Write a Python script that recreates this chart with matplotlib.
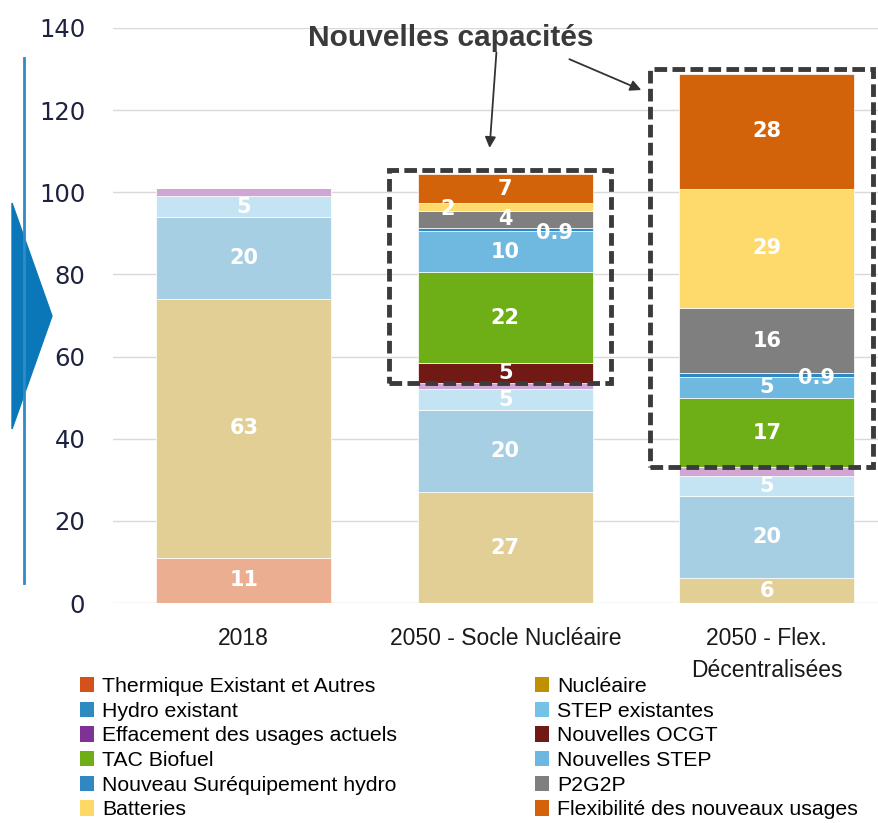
import matplotlib
matplotlib.use('Agg')
import matplotlib.pyplot as plt
from matplotlib.patches import Patch, Rectangle, Polygon
from matplotlib.lines import Line2D
import numpy as np

# categories and series (stacked in this order, bottom to top)
categories = ['2018', '2050 - Socle Nucléaire', '2050 - Flex.\nDécentralisées']

series_names = ['Thermique Existant et Autres', 'Nucléaire', 'Hydro existant',
                'STEP existantes', 'Effacement des usages actuels', 'Nouvelles OCGT',
                'TAC Biofuel', 'Nouvelles STEP', 'Nouveau Suréquipement hydro',
                'P2G2P', 'Batteries', 'Flexibilité des nouveaux usages']

thermique = [11, 0, 0]
nucleaire = [63, 27, 6]
hydro = [20, 20, 20]
step_exist = [5, 5, 5]
effacement = [2, 1.5, 2]
ocgt = [0, 5, 0]
tac = [0, 22, 17]
nouv_step = [0, 10, 5]
surequip = [0, 0.9, 0.9]
p2g2p = [0, 4, 16]
batteries = [0, 2, 29]
flex = [0, 7, 28]

values = [thermique, nucleaire, hydro, step_exist, effacement, ocgt,
          tac, nouv_step, surequip, p2g2p, batteries, flex]

legend_colors = ['#D4511A', '#C09000', '#2E8BC0', '#74C2E6', '#7E3296', '#711A15',
                 '#6EAE16', '#6CB8E0', '#2F88C1', '#7F7F7F', '#FFD966', '#D3620B']
bar_colors = ['#EBAE90', '#E2CF96', '#A7CFE4', '#C4E4F3', '#CFA6D4', '#711A15',
              '#6EAE16', '#6FB9E0', '#2F88C1', '#7F7F7F', '#FED96C', '#D3630A']
show_label = [True, True, True, True, False, True,
              True, True, True, True, True, True]
new_start = 5  # index of first "nouvelle capacité" series

plt.rcParams['font.family'] = ['DejaVu Sans']
narrow = ['Liberation Sans']

fig = plt.figure(figsize=(8.79, 8.23), dpi=100)
ax = fig.add_axes([0.1286, 0.2673, 0.8925, 0.6987])

x = np.arange(len(categories))
width = 0.67
bottom = np.zeros(len(categories))
for i, vals in enumerate(values):
    vals = np.array(vals, dtype=float)
    ax.bar(x, vals, width, bottom=bottom, color=bar_colors[i],
           edgecolor='white', linewidth=0.5, zorder=2)
    if show_label[i]:
        for j in range(len(categories)):
            v = vals[j]
            if v <= 0:
                continue
            txt = '{:g}'.format(v)
            xx = x[j]
            yy = bottom[j] + v / 2
            if v < 1:
                xx = x[j] + 0.19
                yy = bottom[j] - 0.3
            elif v < 3:
                xx = x[j] - 0.22
                yy = bottom[j] + v / 2 - 0.5
            ax.text(xx, yy, txt, ha='center', va='center', color='white',
                    fontsize=15, fontweight='bold', zorder=4)
    bottom = bottom + vals

# dashed boxes around new capacities
totals = bottom
new_base = np.zeros(len(categories))
for vals in values[:new_start]:
    new_base = new_base + np.array(vals, dtype=float)
for j in [1, 2]:
    x0 = x[j] - width / 2 - 0.11
    x1 = x[j] + width / 2 + 0.07
    y0 = new_base[j]
    y1 = totals[j] + 1
    ax.add_patch(Rectangle((x0, y0), x1 - x0, y1 - y0, fill=False,
                           edgecolor='#3B3B3B', linewidth=3.5,
                           linestyle=(0, (2.6, 1.1)), zorder=5, clip_on=False))

ax.set_xlim(-0.5, 2.5)
ax.set_ylim(0, 140)
ax.set_yticks(range(0, 141, 20))
ax.set_xticks(x)
ax.set_xticklabels(categories, fontsize=16.5, family=narrow, color='#1a1a1a',
                   linespacing=1.5)
ax.tick_params(axis='y', length=0, pad=20, labelsize=17.5, labelcolor='#1E2240')
ax.tick_params(axis='x', length=0, pad=17)
for s in ax.spines.values():
    s.set_visible(False)
ax.grid(axis='y', color='#D9D9D9', linewidth=1, zorder=0)
ax.set_axisbelow(True)

# annotation
ax.text(0.79, 137.6, 'Nouvelles capacités', ha='center', va='center',
        fontsize=21.5, fontweight='bold', family='Liberation Sans', color='#3A3A3A')
ax.annotate('', xy=(0.94, 110.8), xytext=(0.966, 134.0),
            arrowprops=dict(arrowstyle='-|>', color='#333333', lw=1.3,
                            mutation_scale=16, shrinkA=0, shrinkB=0))
ax.annotate('', xy=(1.52, 124.9), xytext=(1.245, 132.4),
            arrowprops=dict(arrowstyle='-|>', color='#333333', lw=1.3,
                            mutation_scale=16, shrinkA=0, shrinkB=0))

# left decoration
W, H = 879.0, 823.0
fig.add_artist(Line2D([24.5 / W, 24.5 / W], [1 - 58 / H, 1 - 583 / H],
                      color='#2E8BC8', linewidth=2, transform=fig.transFigure))
fig.add_artist(Polygon([[12 / W, 1 - 203 / H], [52 / W, 1 - 316 / H], [12 / W, 1 - 429 / H]],
                       closed=True, color='#0A78B8', transform=fig.transFigure))

# legend in two columns
handles = [Patch(facecolor=c, edgecolor='none') for c in legend_colors]
left_idx = [0, 2, 4, 6, 8, 10]
right_idx = [1, 3, 5, 7, 9, 11]
common = dict(frameon=False, loc='upper left', handlelength=0.64, handleheight=0.74,
              handletextpad=0.4, labelspacing=0.26, borderpad=0, borderaxespad=0,
              prop={'family': narrow, 'size': 15.3})
fig.legend([handles[i] for i in left_idx], [series_names[i] for i in left_idx],
           bbox_to_anchor=(80 / W, 1 - 677 / H), **common)
fig.legend([handles[i] for i in right_idx], [series_names[i] for i in right_idx],
           bbox_to_anchor=(535 / W, 1 - 677 / H), **common)

fig.savefig('out.png', dpi=100)
